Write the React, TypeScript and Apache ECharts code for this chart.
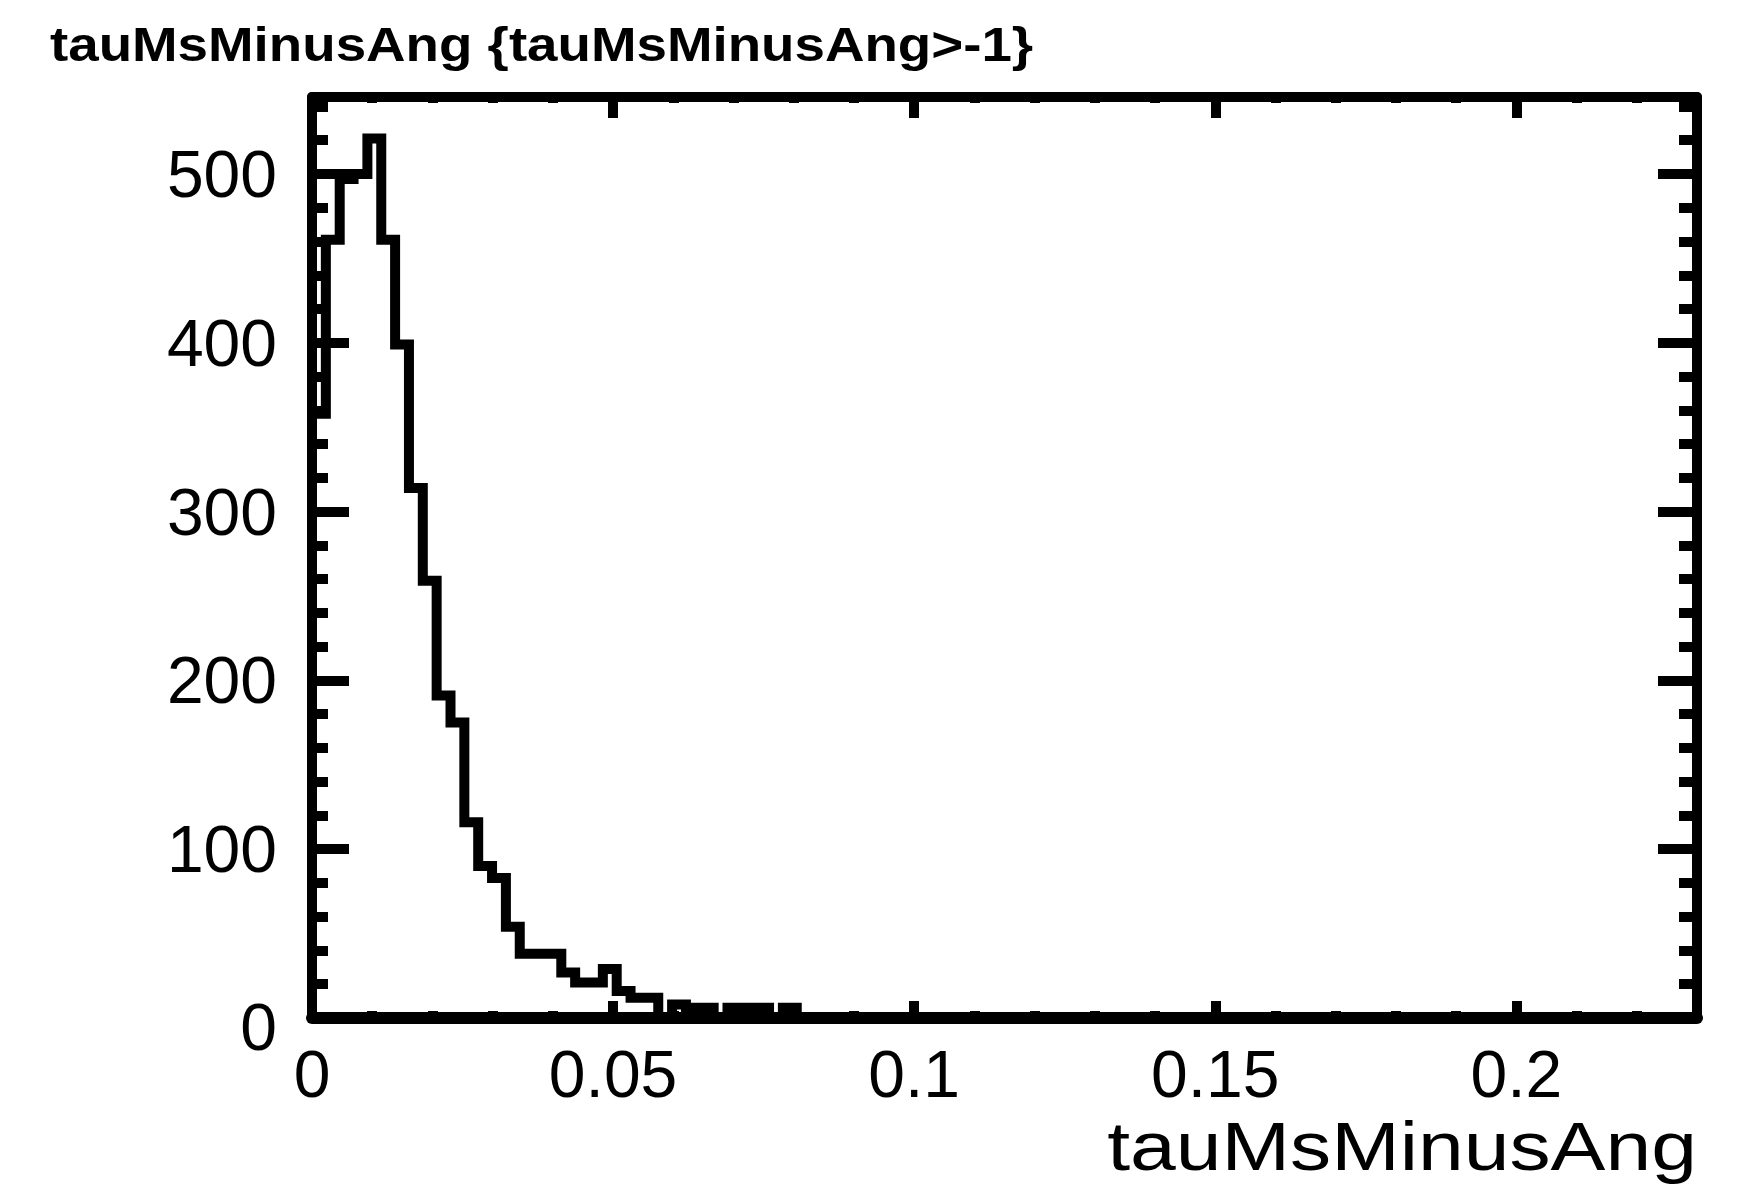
import React, { useEffect, useRef } from "react";
import * as echarts from "echarts";

// Texts
const plotTitle = "tauMsMinusAng {tauMsMinusAng>-1}";
const xAxisTitle = "tauMsMinusAng";

// Histogram binning (100 equal bins)
const nBins = 100;
const xLow = 0;
const xHigh = 0.23;
const yLow = 0;
const yHigh = 545.6;

// Entries per bin
const binCounts = [
  358, 461, 497, 500, 521, 461, 399, 314, 259, 191,
  175, 116, 90, 83, 54, 38, 38, 38, 27, 21,
  21, 29, 16, 12, 12, 0, 8, 6, 6, 0,
  6, 6, 6, 0, 6, 0, 0, 0, 0, 0,
  0, 0, 0, 0, 0, 0, 0, 0, 0, 0,
  0, 0, 0, 0, 0, 0, 0, 0, 0, 0,
  0, 0, 0, 0, 0, 0, 0, 0, 0, 0,
  0, 0, 0, 0, 0, 0, 0, 0, 0, 0,
  0, 0, 0, 0, 0, 0, 0, 0, 0, 0,
  0, 0, 0, 0, 0, 0, 0, 0, 0, 0,
];

// Tick positions
const xMajorTicks = [0, 0.05, 0.1, 0.15, 0.2];
const xMinorTicks = [
  0.01, 0.02, 0.03, 0.04, 0.06, 0.07, 0.08, 0.09, 0.11, 0.12, 0.13, 0.14,
  0.16, 0.17, 0.18, 0.19, 0.21, 0.22,
];
const yMajorTicks = [0, 100, 200, 300, 400, 500];
const yMinorTicks = [
  20, 40, 60, 80, 120, 140, 160, 180, 220, 240, 260, 280, 320, 340, 360, 380,
  420, 440, 460, 480, 520, 540,
];

const FONT = '"Liberation Sans", Arial, Helvetica, sans-serif';
const INK = "#000000";
const TICK_W = 10;

// Outline path of the histogram: baseline -> each bin top -> baseline
function histogramOutline(): number[][] {
  const w = (xHigh - xLow) / nBins;
  const pts: number[][] = [[xLow, 0]];
  binCounts.forEach((c, i) => pts.push([xLow + i * w, c]));
  pts.push([xLow + nBins * w, binCounts[nBins - 1]]);
  pts.push([xLow + nBins * w, 0]);
  return pts;
}

function xAxisDef(position: "top" | "bottom", ticks: number[], len: number, withLine: boolean, withLabels: boolean) {
  return {
    type: "value",
    position,
    min: xLow,
    max: xHigh,
    axisLine: { show: withLine, onZero: false, lineStyle: { color: INK, width: position === "bottom" ? 12 : 10 } },
    axisTick: { show: true, inside: true, length: len, customValues: ticks, lineStyle: { color: INK, width: TICK_W } },
    axisLabel: withLabels
      ? {
          show: true,
          customValues: ticks,
          margin: 23,
          fontSize: 66,
          fontFamily: FONT,
          color: INK,
          formatter: (v: number) => String(v),
        }
      : { show: false },
    splitLine: { show: false },
    minorTick: { show: false },
  };
}

function yAxisDef(position: "left" | "right", ticks: number[], len: number, withLine: boolean, withLabels: boolean) {
  return {
    type: "value",
    position,
    min: yLow,
    max: yHigh,
    axisLine: { show: withLine, onZero: false, lineStyle: { color: INK, width: 10 } },
    axisTick: { show: true, inside: true, length: len, customValues: ticks, lineStyle: { color: INK, width: TICK_W } },
    axisLabel: withLabels
      ? {
          show: true,
          customValues: ticks,
          margin: 35,
          fontSize: 66,
          fontFamily: FONT,
          color: INK,
          // the zero label sits a little lower than the others
          formatter: (v: number) => (v === 0 ? "{zero|0}" : String(v)),
          rich: {
            zero: { fontSize: 66, fontFamily: FONT, color: INK, padding: [18, 0, 0, 0] },
          },
        }
      : { show: false },
    splitLine: { show: false },
    minorTick: { show: false },
  };
}

export default function App() {
  const ref = useRef<HTMLDivElement>(null);

  useEffect(() => {
    if (!ref.current) return;
    const chart = echarts.init(ref.current, undefined, { renderer: "svg" });
    chart.setOption({
      animation: false,
      backgroundColor: "#ffffff",
      grid: { left: 312, right: 54, top: 97, bottom: 180 },
      xAxis: [
        xAxisDef("bottom", xMajorTicks, 17, true, true),
        xAxisDef("bottom", xMinorTicks, 7, false, false),
        xAxisDef("top", xMajorTicks, 21, true, false),
        xAxisDef("top", xMinorTicks, 6, false, false),
      ],
      yAxis: [
        yAxisDef("left", yMajorTicks, 37, true, true),
        yAxisDef("left", yMinorTicks, 16, false, false),
        yAxisDef("right", yMajorTicks, 39, true, false),
        yAxisDef("right", yMinorTicks, 18, false, false),
      ],
      series: [
        {
          type: "line",
          xAxisIndex: 0,
          yAxisIndex: 0,
          step: "end",
          symbol: "none",
          clip: false,
          data: histogramOutline(),
          lineStyle: { color: INK, width: 10, join: "miter" },
        },
      ],
      graphic: [
        {
          type: "text",
          x: 50,
          y: 20,
          scaleX: 1.14,
          style: {
            text: plotTitle,
            font: `bold 48px ${FONT}`,
            fill: INK,
            align: "left",
            verticalAlign: "top",
          },
        },
        {
          type: "text",
          x: 1697,
          y: 1113,
          scaleX: 1.21,
          style: {
            text: xAxisTitle,
            font: `68px ${FONT}`,
            fill: INK,
            align: "right",
            verticalAlign: "top",
          },
        },
      ],
    });
    return () => chart.dispose();
  }, []);

  return (
    <div
      ref={ref}
      style={{ position: "absolute", left: 0, top: 0, width: 1751, height: 1198, background: "#fff" }}
    />
  );
}
